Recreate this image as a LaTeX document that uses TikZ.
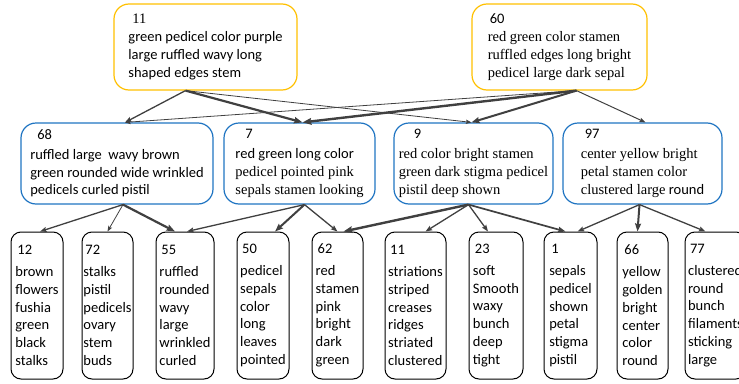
\documentclass[tikz,border=0pt]{standalone}
\usepackage{fontspec}
\setmainfont{Carlito}
\newfontfamily\serifface{Liberation Serif}
\usetikzlibrary{arrows.meta}
\definecolor{topgold}{HTML}{FFC000}
\definecolor{midblue}{HTML}{1F74C2}
\definecolor{linkgray}{HTML}{404040}
\newcommand{\boxfont}{\fontsize{14.5pt}{17.8pt}\selectfont\hyphenpenalty=10000\relax}
\newcommand{\sr}[1]{{\serifface #1}}
\tikzset{
  topbox/.style={draw=topgold, line width=1.2pt, rounded corners=15pt, align=left, font=\boxfont,
    minimum width=#1, minimum height=86pt, inner sep=0pt},
  midbox/.style={draw=midblue, line width=1.2pt, rounded corners=15pt, align=left, font=\boxfont,
    minimum width=#1, minimum height=81pt, inner sep=0pt},
  leaf/.style={draw=black, line width=1pt, rounded corners=10pt, align=left, font=\boxfont,
    minimum width=#1, minimum height=147pt, inner sep=0pt},
  link/.style={draw=linkgray, line width=#1, -{Stealth[length=4pt 2, inset=1pt]}},
  link/.default=1.3pt
}
\begin{document}
\begin{tikzpicture}[x=1pt, y=-1pt]
\useasboundingbox (0,0) rectangle (739,383);

% Top clusters
\node[topbox=183pt] (r11) at (205.5,47) {\hspace*{4pt}\sr{11}\\green pedicel color purple\\large ruffled wavy long\\shaped edges stem};
\node[topbox=175pt] (r60) at (559.5,47) {\hspace*{2pt}60\\\sr{red green color stamen}\\\sr{ruffled edges long bright}\\\sr{pedicel large dark sepal}};

% Middle clusters
\node[midbox=192pt] (m68) at (117,163.5) {\hspace*{7pt}68\\[2pt]ruffled large\ \ wavy brown\\green rounded wide wrinkled\\pedicels curled pistil};
\node[midbox=151pt] (m7) at (299.5,163.5) {\hspace*{10pt}7\\[2pt]red green long color\\\sr{pedicel pointed pink}\\\sr{sepals stamen looking}};
\node[midbox=159pt] (m9) at (473.5,163.5) {\hspace*{15pt}9\\[2pt]\sr{red color bright stamen}\\\sr{green dark stigma pedicel}\\\sr{pistil deep shown}};
\node[midbox=159pt] (m97) at (642.5,163.5) {\hspace*{4pt}97\\[2pt]\sr{center yellow bright}\\\sr{petal stamen color}\\\sr{clustered large} round};

% Leaves
\node[leaf=52pt] (l12) at (37,305.5) {\hspace*{2pt}12\\[4pt]brown\\flowers\\fushia\\green\\black\\stalks};
\node[leaf=51pt] (l72) at (107.5,305.5) {\hspace*{2pt}72\\[4pt]stalks\\pistil\\pedicels\\ovary\\stem\\buds};
\node[leaf=58pt] (l55) at (185,305.5) {\hspace*{2pt}55\\[4pt]ruffled\\rounded\\wavy\\large\\wrinkled\\curled};
\node[leaf=52pt] (l50) at (263,305.5) {\hspace*{2pt}50\\[4pt]pedicel\\sepals\\color\\long\\leaves\\pointed};
\node[leaf=51pt] (l62) at (337.5,305.5) {\hspace*{2pt}62\\[4pt]red\\stamen\\pink\\bright\\dark\\green};
\node[leaf=61pt] (l11) at (415.5,305.5) {\hspace*{2pt}11\\[4pt]striations\\striped\\creases\\ridges\\striated\\clustered};
\node[leaf=54pt] (l23) at (496,305.5) {\hspace*{2pt}23\\[4pt]soft\\Smooth\\waxy\\bunch\\deep\\tight};
\node[leaf=53pt] (l1) at (570.5,305.5) {\hspace*{2pt}1\\[4pt]sepals\\pedicel\\shown\\petal\\stigma\\pistil};
\node[leaf=51pt] (l66) at (642.5,305.5) {\hspace*{2pt}66\\[4pt]yellow\\golden\\bright\\center\\color\\round};
\node[leaf=61pt] (l77) at (715.5,305.5) {\hspace*{2pt}77\\[4pt]clustered\\round\\bunch\\filaments\\sticking\\large};

% Links top -> middle
\draw[link] ([xshift=-20pt]r11.south) -- ([xshift=8pt]m68.north);
\draw[link=2.2pt] ([xshift=-20pt]r11.south) -- ([xshift=3pt]m7.north);
\draw[link=0.8pt] ([xshift=-20pt]r11.south) -- ([xshift=-2pt]m9.north);
\draw[link=0.8pt] ([xshift=17pt]r60.south) -- ([xshift=8pt]m68.north);
\draw[link=2.4pt] ([xshift=17pt]r60.south) -- ([xshift=3pt]m7.north);
\draw[link=2pt] ([xshift=17pt]r60.south) -- ([xshift=-2pt]m9.north);
\draw[link=1pt] ([xshift=17pt]r60.south) -- ([xshift=3pt]m97.north);

% Links middle -> leaves
\draw[link] ([xshift=6pt]m68.south) -- ([xshift=3pt]l12.north);
\draw[link=0.8pt] ([xshift=6pt]m68.south) -- (l72.north);
\draw[link=2.2pt] ([xshift=6pt]m68.south) -- ([xshift=-10pt]l55.north);
\draw[link] ([xshift=5pt]m7.south) -- ([xshift=2pt]l55.north);
\draw[link=2pt] ([xshift=5pt]m7.south) -- ([xshift=12pt]l50.north);
\draw[link] ([xshift=5pt]m7.south) -- (l62.north);
\draw[link=2.4pt] ([xshift=-5pt]m9.south) -- ([xshift=6pt]l62.north);
\draw[link] ([xshift=-5pt]m9.south) -- ([xshift=10pt]l11.north);
\draw[link] ([xshift=-5pt]m9.south) -- ([xshift=-8pt]l23.north);
\draw[link=1.7pt] ([xshift=-5pt]m9.south) -- ([xshift=-5pt]l1.north);
\draw[link] ([xshift=-3pt]m97.south) -- ([xshift=7pt]l1.north);
\draw[link=2pt] ([xshift=-3pt]m97.south) -- ([xshift=-5pt]l66.north);
\draw[link] ([xshift=-3pt]m97.south) -- ([xshift=-10pt]l77.north);
\end{tikzpicture}
\end{document}
